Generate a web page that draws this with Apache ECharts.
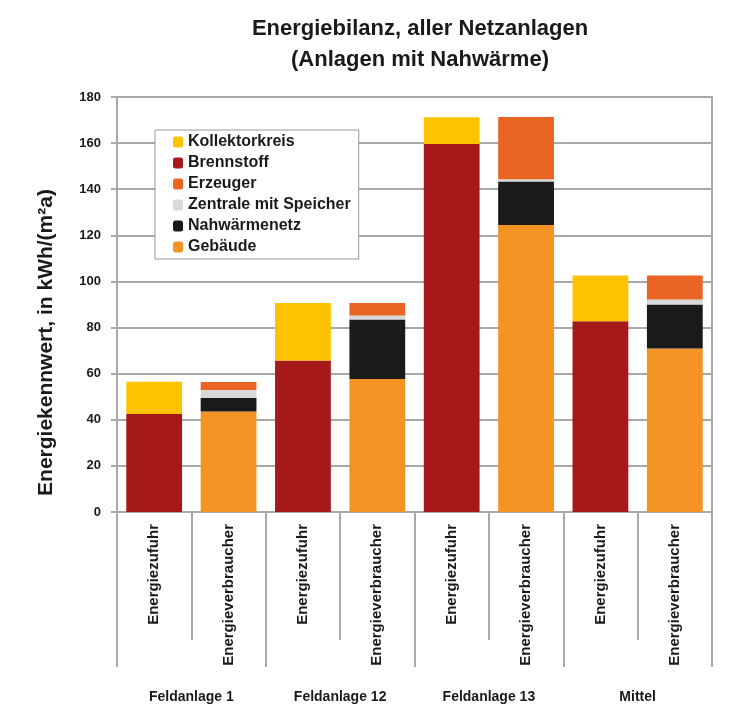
<!DOCTYPE html>
<html><head><meta charset="utf-8">
<script src="https://cdn.jsdelivr.net/npm/echarts@6/dist/echarts.min.js"></script>
<style>html,body{margin:0;padding:0;background:#fff}#c{width:735px;height:711px}</style>
</head><body><div id="c"></div>
<script>
const categories = ['Energiezufuhr','Energieverbraucher','Energiezufuhr','Energieverbraucher','Energiezufuhr','Energieverbraucher','Energiezufuhr','Energieverbraucher'];
const groups = ['Feldanlage 1','Feldanlage 12','Feldanlage 13','Mittel'];
const yTicks = [0,20,40,60,80,100,120,140,160,180];
const gebaeude      = [null, 43.6, null, 57.7, null, 124.5, null, 70.9];
const brennstoff    = [42.5, null, 65.7, null, 159.6, null, 82.7, null];
const nahwaerme     = [null, 5.8, null, 25.8, null, 18.8, null, 19.1];
const zentrale      = [null, 3.5, null, 1.7, null, 1.0, null, 2.2];
const erzeuger      = [null, 3.5, null, 5.5, null, 27.0, null, 10.4];
const kollektor     = [14.0, null, 25.0, null, 11.6, null, 19.9, null];

const FONT = '"Liberation Sans",Arial,sans-serif';
const GRAY = '#a9a9a9';
const chart = echarts.init(document.getElementById('c'));
function s(name, data, color){
  return {name, type:'bar', stack:'a', data, barWidth:'75%', itemStyle:{color}, emphasis:{disabled:true}};
}
chart.setOption({
  animation:false,
  title:{text:'Energiebilanz, aller Netzanlagen\n(Anlagen mit Nahwärme)', left:415, top:8, textAlign:'center',
    textStyle:{fontFamily:FONT, fontWeight:'bold', fontSize:22, lineHeight:31, color:'#1a1a1a'}},
  legend:{orient:'vertical', left:155, top:130, itemWidth:10, itemHeight:11, itemGap:5,
    padding:[4,8,4,18], borderColor:'#999', borderWidth:1, backgroundColor:'#fff',
    textStyle:{fontFamily:FONT, fontWeight:'bold', fontSize:16, color:'#1a1a1a'},
    data:['Kollektorkreis','Brennstoff','Erzeuger','Zentrale mit Speicher','Nahwärmenetz','Gebäude']},
  grid:{left:117, right:23, top:97, bottom:199, show:true, borderColor:GRAY, borderWidth:2},
  xAxis:[
    {type:'category', data:categories, axisLine:{lineStyle:{color:GRAY, width:2}},
     axisTick:{show:true, interval:0, length:128, lineStyle:{color:GRAY, width:2}},
     axisLabel:{rotate:90, margin:12, interval:0, fontFamily:FONT, fontWeight:'bold', fontSize:15, color:'#1a1a1a'}},
    {type:'category', data:groups, position:'bottom', axisLine:{show:false},
     axisTick:{show:true, interval:0, length:155, lineStyle:{color:GRAY, width:2}},
     axisLabel:{margin:178, interval:0, fontFamily:FONT, fontWeight:'bold', fontSize:14, color:'#1a1a1a'}}
  ],
  yAxis:{type:'value', min:0, max:180, interval:20,
    name:'Energiekennwert, in kWh/(m²a)', nameLocation:'middle', nameRotate:90, nameGap:60,
    nameTextStyle:{fontFamily:FONT, fontWeight:'bold', fontSize:21, color:'#1a1a1a', padding:[0,76,0,0]},
    axisLine:{show:true, lineStyle:{color:GRAY, width:2}},
    axisTick:{show:true, length:6, lineStyle:{color:GRAY, width:2}},
    splitLine:{lineStyle:{color:GRAY, width:2}},
    axisLabel:{margin:16, fontFamily:FONT, fontWeight:'bold', fontSize:13, color:'#1a1a1a',
      formatter:v=>yTicks.includes(v)?String(v):''}},
  series:[
    s('Gebäude', gebaeude, '#f39323'),
    s('Brennstoff', brennstoff, '#a6191b'),
    s('Nahwärmenetz', nahwaerme, '#1a1a1a'),
    s('Zentrale mit Speicher', zentrale, '#d9d9d9'),
    s('Erzeuger', erzeuger, '#ea6424'),
    s('Kollektorkreis', kollektor, '#fdc300')
  ]
});
</script></body></html>
